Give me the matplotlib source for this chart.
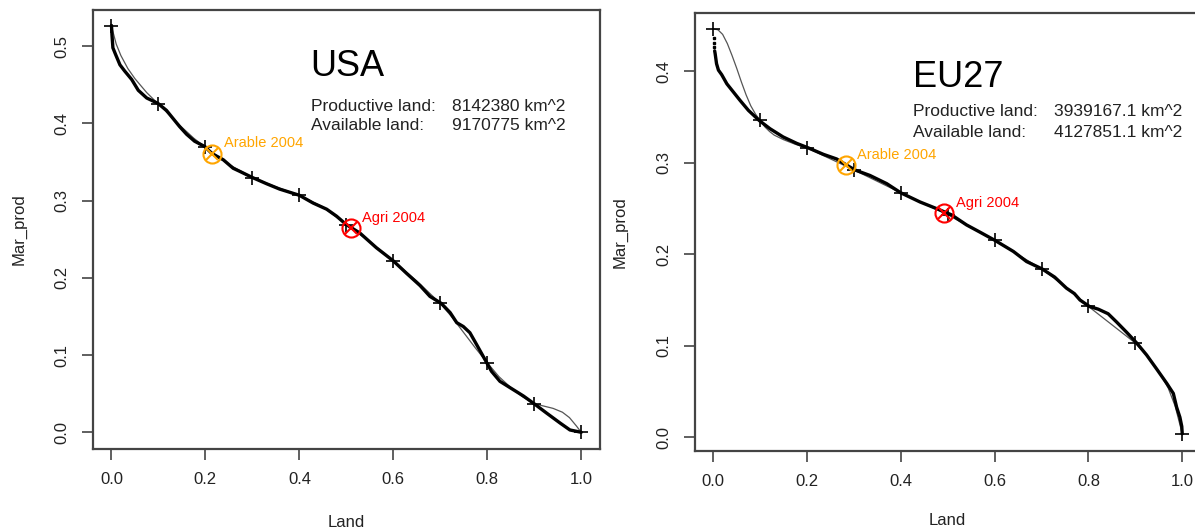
import matplotlib
matplotlib.use("Agg")
import matplotlib.pyplot as plt

plt.rcParams['font.family'] = ['Liberation Sans', 'DejaVu Sans']

# ---------------- USA data ----------------
usa_x = [0.000, 0.001, 0.003, 0.009, 0.018, 0.028, 0.043, 0.057, 0.075, 0.099,
         0.117, 0.145, 0.160, 0.177, 0.199, 0.214, 0.238, 0.259, 0.273, 0.300,
         0.330, 0.358, 0.400, 0.429, 0.458, 0.479, 0.500, 0.529, 0.564, 0.600,
         0.628, 0.657, 0.678, 0.702, 0.721, 0.735, 0.749, 0.763, 0.777, 0.799,
         0.809, 0.827, 0.848, 0.877, 0.902, 0.926, 0.955, 0.976, 1.000]
usa_y = [0.527, 0.515, 0.498, 0.489, 0.476, 0.468, 0.457, 0.443, 0.433, 0.426,
         0.417, 0.396, 0.386, 0.377, 0.370, 0.361, 0.353, 0.342, 0.338, 0.330,
         0.322, 0.315, 0.307, 0.297, 0.289, 0.280, 0.269, 0.258, 0.239, 0.222,
         0.206, 0.190, 0.176, 0.167, 0.155, 0.142, 0.137, 0.129, 0.114, 0.090,
         0.079, 0.066, 0.058, 0.047, 0.036, 0.025, 0.012, 0.003, 0.000]
usa_fit_x = [0.0, 0.01, 0.02, 0.035, 0.05, 0.075, 0.1, 0.125, 0.15, 0.175, 0.2,
             0.25, 0.3, 0.35, 0.4, 0.45, 0.5, 0.55, 0.6, 0.65, 0.7, 0.725, 0.75,
             0.775, 0.8, 0.825, 0.85, 0.875, 0.9, 0.92, 0.94, 0.96, 0.975, 0.99, 1.0]
usa_fit_y = [0.526, 0.503, 0.488, 0.471, 0.458, 0.440, 0.425, 0.410, 0.395, 0.381,
             0.369, 0.347, 0.330, 0.318, 0.307, 0.292, 0.269, 0.247, 0.222, 0.196,
             0.167, 0.149, 0.129, 0.109, 0.090, 0.072, 0.058, 0.046, 0.037, 0.034,
             0.031, 0.026, 0.019, 0.008, 0.0]
usa_tick_x = [0.0, 0.1, 0.2, 0.3, 0.4, 0.5, 0.6, 0.7, 0.8, 0.9, 1.0]
usa_tick_y = [0.526, 0.425, 0.369, 0.330, 0.307, 0.269, 0.222, 0.167, 0.090, 0.036, 0.0]
usa_arable = (0.214, 0.361)
usa_agri = (0.509, 0.264)
usa_productive = "8142380 km^2"
usa_available = "9170775 km^2"

# ---------------- EU27 data ----------------
eu_dots_x = [0.001, 0.001, 0.001]
eu_dots_y = [0.436, 0.431, 0.426]
eu_x = [0.003, 0.004, 0.007, 0.011, 0.018, 0.029, 0.043, 0.057, 0.075, 0.098,
        0.121, 0.149, 0.178, 0.203, 0.235, 0.263, 0.282, 0.302, 0.334, 0.370,
        0.400, 0.441, 0.480, 0.508, 0.540, 0.569, 0.601, 0.640, 0.668, 0.701,
        0.728, 0.753, 0.770, 0.782, 0.802, 0.821, 0.842, 0.860, 0.881, 0.903,
        0.924, 0.945, 0.967, 0.981, 0.988, 0.995, 0.999, 1.000]
eu_y = [0.422, 0.419, 0.408, 0.401, 0.396, 0.386, 0.377, 0.368, 0.357, 0.346,
        0.337, 0.328, 0.321, 0.316, 0.309, 0.304, 0.298, 0.292, 0.286, 0.277,
        0.267, 0.257, 0.249, 0.243, 0.232, 0.224, 0.215, 0.203, 0.192, 0.184,
        0.175, 0.163, 0.157, 0.150, 0.143, 0.140, 0.135, 0.126, 0.115, 0.103,
        0.090, 0.075, 0.059, 0.048, 0.033, 0.022, 0.012, 0.004]
eu_fit_x = [0.0, 0.01, 0.02, 0.03, 0.04, 0.05, 0.06, 0.07, 0.08, 0.09, 0.1, 0.11,
            0.12, 0.13, 0.15, 0.175, 0.2, 0.3, 0.4, 0.5, 0.6, 0.7, 0.75, 0.8,
            0.85, 0.9, 0.925, 0.95, 0.97, 0.985, 1.0]
eu_fit_y = [0.446, 0.445, 0.440, 0.430, 0.417, 0.403, 0.388, 0.374, 0.362, 0.353,
            0.346, 0.339, 0.334, 0.330, 0.325, 0.320, 0.316, 0.292, 0.267, 0.243,
            0.215, 0.184, 0.165, 0.143, 0.123, 0.103, 0.089, 0.072, 0.054, 0.034,
            0.004]
eu_tick_x = [0.0, 0.1, 0.2, 0.3, 0.4, 0.5, 0.6, 0.7, 0.8, 0.9, 1.0]
eu_tick_y = [0.446, 0.346, 0.316, 0.292, 0.267, 0.243, 0.215, 0.184, 0.143, 0.103, 0.004]
eu_arable = (0.282, 0.297)
eu_agri = (0.492, 0.245)
eu_productive = "3939167.1 km^2"
eu_available = "4127851.1 km^2"

W, H = 1195, 531
fig = plt.figure(figsize=(W / 100, H / 100), dpi=100)

SPINE = '#444444'
TXT = '#222222'


def px_axes(left, top, right, bottom):
    return fig.add_axes([left / W, 1 - bottom / H, (right - left) / W, (bottom - top) / H])


def style(ax, ylim, yticks, xlabelpad):
    ax.set_xlim(-0.04, 1.04)
    ax.set_ylim(*ylim)
    ax.set_xticks([0.0, 0.2, 0.4, 0.6, 0.8, 1.0])
    ax.set_xticklabels(['0.0', '0.2', '0.4', '0.6', '0.8', '1.0'])
    ax.set_yticks(yticks)
    ax.set_yticklabels(['%.1f' % v for v in yticks], rotation=90, va='center')
    for s in ax.spines.values():
        s.set_color(SPINE)
        s.set_linewidth(1.6)
    ax.tick_params(axis='both', length=8, width=1.2, color=SPINE,
                   labelsize=12, labelcolor=TXT)
    ax.tick_params(axis='x', pad=9)
    ax.tick_params(axis='y', pad=9)
    ax.set_xlabel('Land', fontsize=12, color=TXT, labelpad=xlabelpad)
    ax.set_ylabel('Mar_prod', fontsize=12, color=TXT, labelpad=20)


def panel(ax, x, y, fx, fy, tx, ty, arable, agri, title, prod, avail,
          title_pos, info_pos, dots=None):
    ax.plot(fx, fy, color='#555555', lw=0.9, zorder=2)
    ax.plot(x, y, color='black', lw=2.4, zorder=3, solid_capstyle='round',
            solid_joinstyle='round')
    if dots is not None:
        ax.plot(dots[0], dots[1], ls='none', marker='s', ms=1.6, color='black', zorder=3)
    ax.plot(tx, ty, ls='none', marker='+', ms=10.5, mew=1.2, color='black', zorder=4)
    for pt, col, lab in [(arable, '#FFA500', 'Arable 2004'), (agri, '#FF0000', 'Agri 2004')]:
        ax.plot([pt[0]], [pt[1]], ls='none', marker='o', ms=13, mfc='none', mec=col,
                mew=1.5, zorder=5)
        ax.plot([pt[0]], [pt[1]], ls='none', marker='x', ms=9.3, mec=col, mew=1.5, zorder=5)
        ax.annotate(lab, xy=pt, xytext=(8.5, 7.5), textcoords='offset points',
                    ha='left', va='center', color=col, fontsize=10.5)
    ax.text(title_pos[0], title_pos[1], title, fontsize=26, ha='left',
            va='baseline', color='black')
    ax.text(info_pos[0], info_pos[1], 'Productive land:', fontsize=12.5,
            ha='left', va='baseline', color=TXT)
    ax.text(info_pos[0], info_pos[2], 'Available land:', fontsize=12.5,
            ha='left', va='baseline', color=TXT)
    ax.text(info_pos[3], info_pos[1], prod, fontsize=12.5, ha='left',
            va='baseline', color=TXT)
    ax.text(info_pos[3], info_pos[2], avail, fontsize=12.5, ha='left',
            va='baseline', color=TXT)


ax1 = px_axes(92.7, 10, 600, 448.5)
style(ax1, (-0.021, 0.547), [0.0, 0.1, 0.2, 0.3, 0.4, 0.5], 20)
panel(ax1, usa_x, usa_y, usa_fit_x, usa_fit_y, usa_tick_x, usa_tick_y,
      usa_arable, usa_agri, 'USA', usa_productive, usa_available,
      (0.424, 0.461), (0.424, 0.4167, 0.391, 0.724))

ax2 = px_axes(694.5, 13.3, 1201, 450.7)
style(ax2, (-0.0145, 0.463), [0.0, 0.1, 0.2, 0.3, 0.4], 17)
panel(ax2, eu_x, eu_y, eu_fit_x, eu_fit_y, eu_tick_x, eu_tick_y,
      eu_arable, eu_agri, 'EU27', eu_productive, eu_available,
      (0.426, 0.382), (0.426, 0.351, 0.328, 0.726), dots=(eu_dots_x, eu_dots_y))

fig.savefig('out.png', dpi=100)
